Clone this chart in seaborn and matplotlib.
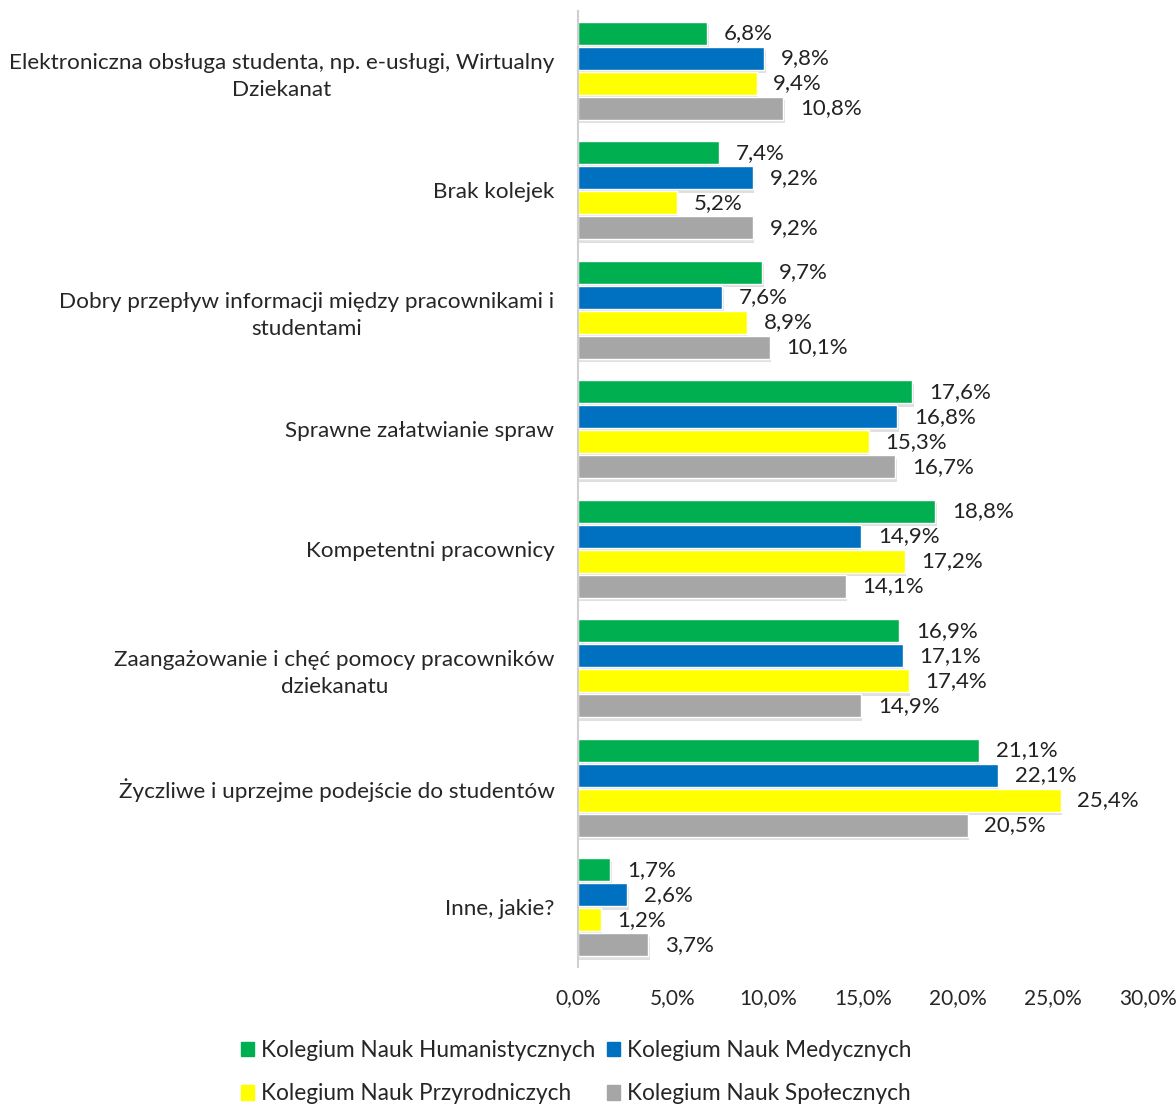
import pandas as pd
import seaborn as sns
import matplotlib.pyplot as plt
import matplotlib.patheffects as pe

categories = [
    'Elektroniczna obsługa studenta, np. e-usługi, Wirtualny\nDziekanat',
    'Brak kolejek',
    'Dobry przepływ informacji między pracownikami i\nstudentami',
    'Sprawne załatwianie spraw',
    'Kompetentni pracownicy',
    'Zaangażowanie i chęć pomocy pracowników\ndziekanatu',
    'Życzliwe i uprzejme podejście do studentów',
    'Inne, jakie?',
]
series = [
    'Kolegium Nauk Humanistycznych',
    'Kolegium Nauk Medycznych',
    'Kolegium Nauk Przyrodniczych',
    'Kolegium Nauk Społecznych',
]
humanistyczne = [6.8, 7.4, 9.7, 17.6, 18.8, 16.9, 21.1, 1.7]
medyczne = [9.8, 9.2, 7.6, 16.8, 14.9, 17.1, 22.1, 2.6]
przyrodnicze = [9.4, 5.2, 8.9, 15.3, 17.2, 17.4, 25.4, 1.2]
spoleczne = [10.8, 9.2, 10.1, 16.7, 14.1, 14.9, 20.5, 3.7]
colors = ['#00B050', '#0070C0', '#FFFF00', '#A6A6A6']
x_ticks = [0, 5, 10, 15, 20, 25, 30]

rows = []
for name, vals in zip(series, [humanistyczne, medyczne, przyrodnicze, spoleczne]):
    for cat, v in zip(categories, vals):
        rows.append({'Kategoria': cat, 'Kolegium': name, 'Procent': v})
df = pd.DataFrame(rows)

sns.set_style('white')
plt.rcParams['font.family'] = ['Lato', 'DejaVu Sans']

fig = plt.figure(figsize=(11.76, 11.06), dpi=100)
ax = fig.add_axes([578 / 1176, 1 - 967 / 1106, (1148 - 578) / 1176, (967 - 11) / 1106])

sns.barplot(data=df, y='Kategoria', x='Procent', hue='Kolegium', hue_order=series,
            palette=colors, orient='h', width=0.84, gap=0.08, ax=ax,
            legend=False, saturation=1)

# soft drop shadow under bars
for p in ax.patches:
    p.set_path_effects([pe.SimplePatchShadow(offset=(1, -2.5), shadow_rgbFace='#999999', alpha=0.3),
                        pe.Normal()])

for cont in ax.containers:
    labels = [f'{v:.1f}%'.replace('.', ',') for v in cont.datavalues]
    ax.bar_label(cont, labels=labels, padding=12, fontsize=16, color='#222222')

ax.set_xlim(0, 30)
ax.set_ylim(len(categories) - 0.5, -0.5)
ax.set_xticks(x_ticks)
ax.set_xticklabels([f'{t:.1f}%'.replace('.', ',') for t in x_ticks], fontsize=15)
ax.set_xlabel('')
ax.set_ylabel('')
ax.tick_params(axis='x', length=0, pad=15)
ax.tick_params(axis='y', length=0, pad=17, labelsize=16.2)
for lbl in ax.get_yticklabels():
    lbl.set_multialignment('center')
    lbl.set_linespacing(1.45)

for side in ['top', 'right', 'bottom']:
    ax.spines[side].set_visible(False)
ax.spines['left'].set_color('#D0D0D0')
ax.spines['left'].set_linewidth(1.5)

# legend laid out row-wise
handles = [plt.Rectangle((0, 0), 1, 1, color=c) for c in colors]
order = [0, 2, 1, 3]
fig.legend([handles[i] for i in order], [series[i] for i in order], ncol=2,
           loc='center', bbox_to_anchor=(0.49, 1 - 1072 / 1106), frameon=False,
           fontsize=16.3, handlelength=0.6, handleheight=0.6, handletextpad=0.3,
           columnspacing=0.5, labelspacing=1.0)

fig.savefig('out.png', dpi=100)
